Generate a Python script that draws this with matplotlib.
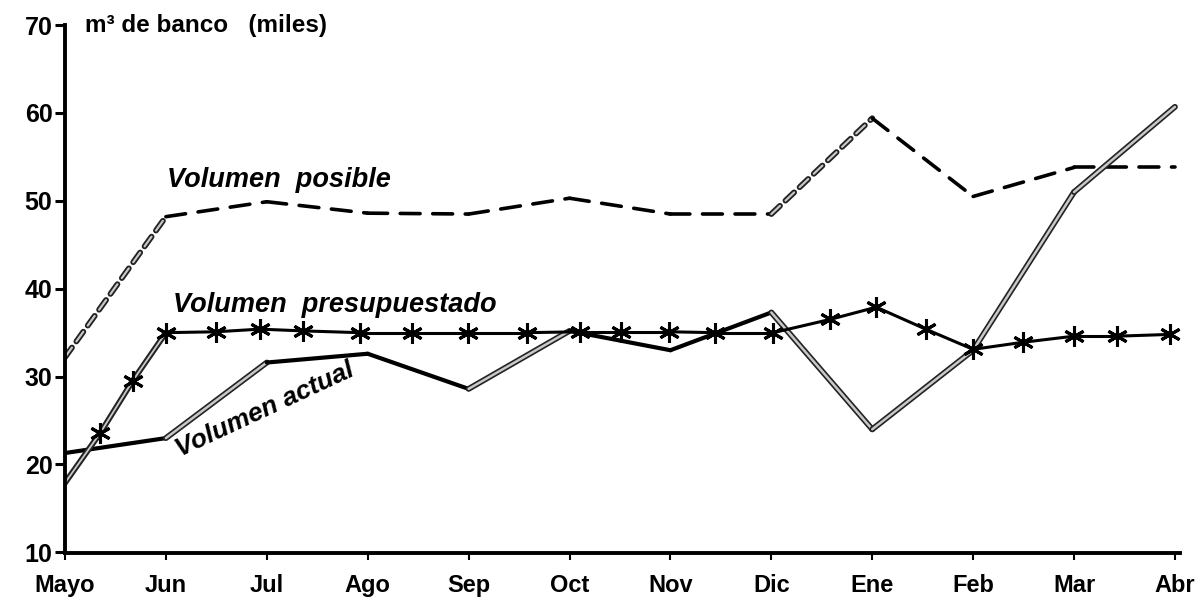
import matplotlib
matplotlib.use("Agg")
import matplotlib.pyplot as plt
import matplotlib.patheffects as pe

plt.rcParams.update({
    "font.family": ["Liberation Sans", "DejaVu Sans"],
    "font.weight": "bold",
})

# Data (thousands of m3 de banco)
months = ["Mayo", "Jun", "Jul", "Ago", "Sep", "Oct", "Nov", "Dic", "Ene", "Feb", "Mar", "Abr"]
posible = [32.2, 48.2, 49.9, 48.6, 48.5, 50.3, 48.5, 48.5, 59.4, 50.5, 53.8, 53.8]
actual = [21.3, 23.0, 31.6, 32.6, 28.6, 35.2, 33.0, 37.3, 24.0, 33.0, 51.0, 60.7]
presup_x = [0, 0.35, 0.67, 1.0, 1.5, 1.93, 2.36, 2.92, 3.44, 3.99, 4.58, 5.1,
            5.51, 5.99, 6.44, 7.02, 7.58, 8.04, 8.53, 9.0, 9.49, 10.0, 10.43, 10.95]
presup = [17.9, 23.6, 29.5, 35.0, 35.1, 35.4, 35.2, 35.0, 35.0, 35.0, 35.0, 35.1,
          35.1, 35.1, 35.0, 35.0, 36.5, 37.9, 35.4, 33.1, 33.9, 34.6, 34.6, 34.8]
yticks = [10, 20, 30, 40, 50, 60, 70]

# which segments were printed with the grey screen tone
posible_grey = {0, 7}
actual_grey = {1, 4, 7, 8, 9, 10}
presup_grey = {0, 1, 2}

GREY_FX = [pe.Stroke(linewidth=4.2, foreground="#222222"), pe.Normal()]


def seg_plot(ax, xs, ys, grey_set, lw, dashed=False):
    for i in range(len(xs) - 1):
        kw = dict(solid_capstyle="round", dash_capstyle="round")
        if dashed:
            kw["dashes"] = (5.5, 3.5)
        if i in grey_set:
            ax.plot(xs[i:i + 2], ys[i:i + 2], color="#c8c8c8", lw=lw * 0.6,
                    path_effects=GREY_FX, **kw)
        else:
            ax.plot(xs[i:i + 2], ys[i:i + 2], color="black", lw=lw, **kw)


fig = plt.figure(figsize=(11.97, 6.04), dpi=100)
ax = fig.add_axes([0.0543, 0.0844, 0.9315, 0.874])

x = list(range(len(months)))
seg_plot(ax, x, posible, posible_grey, 2.6, dashed=True)
seg_plot(ax, x, actual, actual_grey, 3.0)
seg_plot(ax, presup_x, presup, presup_grey, 2.2)
ax.plot(presup_x[1:], presup[1:], linestyle="none", marker=(6, 2, 0),
        markersize=15, markeredgewidth=2.2, color="black")

ax.set_xlim(0, 11.05)
ax.set_ylim(9.92, 70)
for s in ("top", "right"):
    ax.spines[s].set_visible(False)
for s in ("left", "bottom"):
    ax.spines[s].set_linewidth(2.8)

ax.set_yticks(yticks)
ax.set_yticklabels([str(v) for v in yticks], fontsize=18, fontweight="bold")
ax.set_xticks(x)
ax.set_xticklabels(months, fontsize=17, fontweight="bold")
ax.tick_params(axis="y", direction="out", length=7, width=2.2, pad=2)
ax.tick_params(axis="x", direction="out", length=5, width=1.5, pad=10)

ax.text(0.2, 70.0, "m³ de banco   (miles)", fontsize=17.5, fontweight="bold",
        ha="left", va="center")
ax.text(1.01, 52.35, "Volumen  posible", fontsize=19.5, fontweight="bold",
        fontstyle="italic", ha="left", va="center")
ax.text(1.07, 38.1, "Volumen  presupuestado", fontsize=19.5, fontweight="bold",
        fontstyle="italic", ha="left", va="center")
ax.text(1.98, 26.2, "Volumen actual", fontsize=19, fontweight="bold",
        fontstyle="italic", ha="center", va="center", rotation=25,
        rotation_mode="anchor")

fig.savefig("out.png", dpi=100, facecolor="white")
